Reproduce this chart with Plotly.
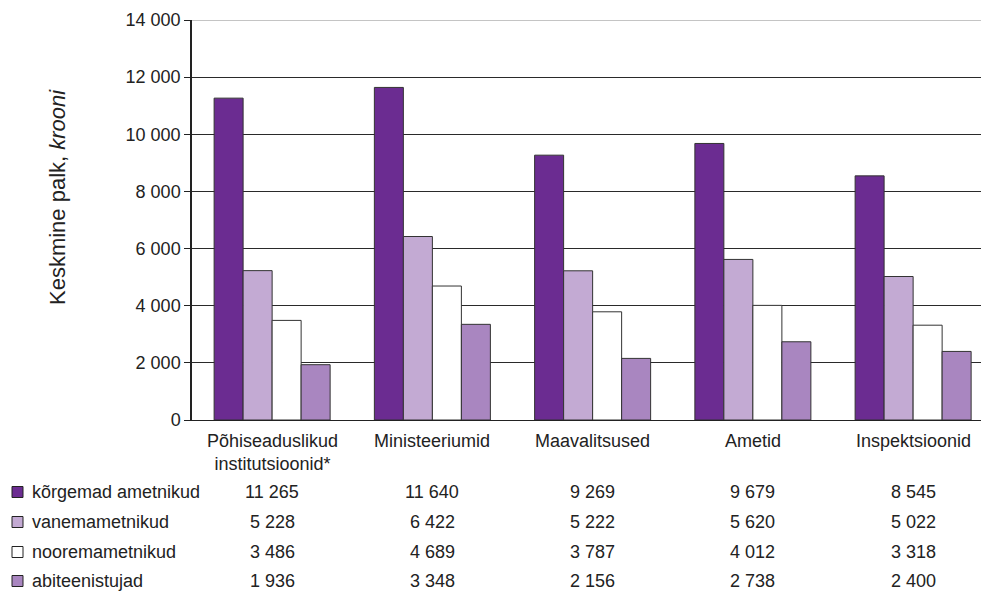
import plotly.graph_objects as go

# Average monthly pay by institution type and staff category
categories = ["Põhiseaduslikud<br>institutsioonid*", "Ministeeriumid", "Maavalitsused",
              "Ametid", "Inspektsioonid"]
series_names = ["kõrgemad ametnikud", "vanemametnikud", "nooremametnikud", "abiteenistujad"]
korgemad = [11265, 11640, 9269, 9679, 8545]
vanem = [5228, 6422, 5222, 5620, 5022]
noorem = [3486, 4689, 3787, 4012, 3318]
abi = [1936, 3348, 2156, 2738, 2400]
y_ticks = [0, 2000, 4000, 6000, 8000, 10000, 12000, 14000]

series_values = [korgemad, vanem, noorem, abi]
colors = ["#6B2C91", "#C3AAD3", "#FFFFFF", "#A986C0"]

W, H = 981, 592
ML, MR, MT, MB = 192, 0, 20, 172
plot_w = W - ML - MR
plot_h = H - MT - MB


def px_x(px):
    return (px - ML) / plot_w


def px_y(py):
    return (H - MB - py) / plot_h


def fmt(v):
    return f"{v:,}".replace(",", " ")


FONT = "Liberation Sans, Arial, sans-serif"
x_pos = list(range(len(categories)))

fig = go.Figure()
for name, vals, col in zip(series_names, series_values, colors):
    fig.add_trace(go.Bar(
        x=x_pos, y=vals, name=name,
        marker=dict(color=col, line=dict(color="#333333", width=1)),
        showlegend=False,
    ))

annotations = []
# category labels under the axis
for i, cat in enumerate(categories):
    annotations.append(dict(
        x=i, y=px_y(429), xref="x", yref="paper", text=cat, showarrow=False,
        xanchor="center", yanchor="top", font=dict(size=18, color="#222222", family=FONT),
    ))

# data table rows
row_y = [492, 522, 552, 581]
shapes = []
for r, (name, vals, col) in enumerate(zip(series_names, series_values, colors)):
    yc = row_y[r]
    annotations.append(dict(
        x=px_x(30), y=px_y(yc), xref="paper", yref="paper", text=name, showarrow=False,
        xanchor="left", yanchor="middle", font=dict(size=18, color="#222222", family=FONT),
    ))
    shapes.append(dict(
        type="rect", xref="paper", yref="paper",
        x0=px_x(12), x1=px_x(23), y0=px_y(yc + 5.5), y1=px_y(yc - 5.5),
        fillcolor=col, line=dict(color="#222222", width=1),
    ))
    for i, v in enumerate(vals):
        annotations.append(dict(
            x=i, y=px_y(yc), xref="x", yref="paper", text=fmt(v), showarrow=False,
            xanchor="center", yanchor="middle", font=dict(size=18, color="#222222", family=FONT),
        ))

# axis title
annotations.append(dict(
    x=px_x(57), y=px_y(197), xref="paper", yref="paper",
    text="Keskmine palk, <i>krooni</i>", showarrow=False, textangle=-90,
    xanchor="center", yanchor="middle", font=dict(size=22, color="#222222", family=FONT),
))

# lighter top border line
shapes.append(dict(type="line", xref="paper", yref="y", x0=0, x1=1, y0=14000, y1=14000,
                   line=dict(color="#8A8A8A", width=1), layer="above"))

fig.update_layout(
    width=W, height=H,
    margin=dict(l=ML, r=MR, t=MT, b=MB, pad=0),
    paper_bgcolor="white", plot_bgcolor="white",
    barmode="group", bargap=0.276, bargroupgap=0,
    font=dict(family=FONT, size=18, color="#222222"),
    xaxis=dict(range=[-0.5, -0.5 + plot_w / 160.25], showticklabels=False, ticks="",
               showgrid=False, zeroline=False, showline=True, linecolor="#222222",
               linewidth=1, fixedrange=True),
    yaxis=dict(range=[0, 14000], tickvals=y_ticks, ticktext=[fmt(v) for v in y_ticks],
               showgrid=True, gridcolor="#2A2A2A", gridwidth=1, zeroline=False,
               showline=True, linecolor="#222222", linewidth=1.5, ticks="outside",
               ticklen=6, tickcolor="#222222", tickfont=dict(size=18, family=FONT, color="#222222"),
               fixedrange=True),
    annotations=annotations,
    shapes=shapes,
)

fig.write_html("out.html")
